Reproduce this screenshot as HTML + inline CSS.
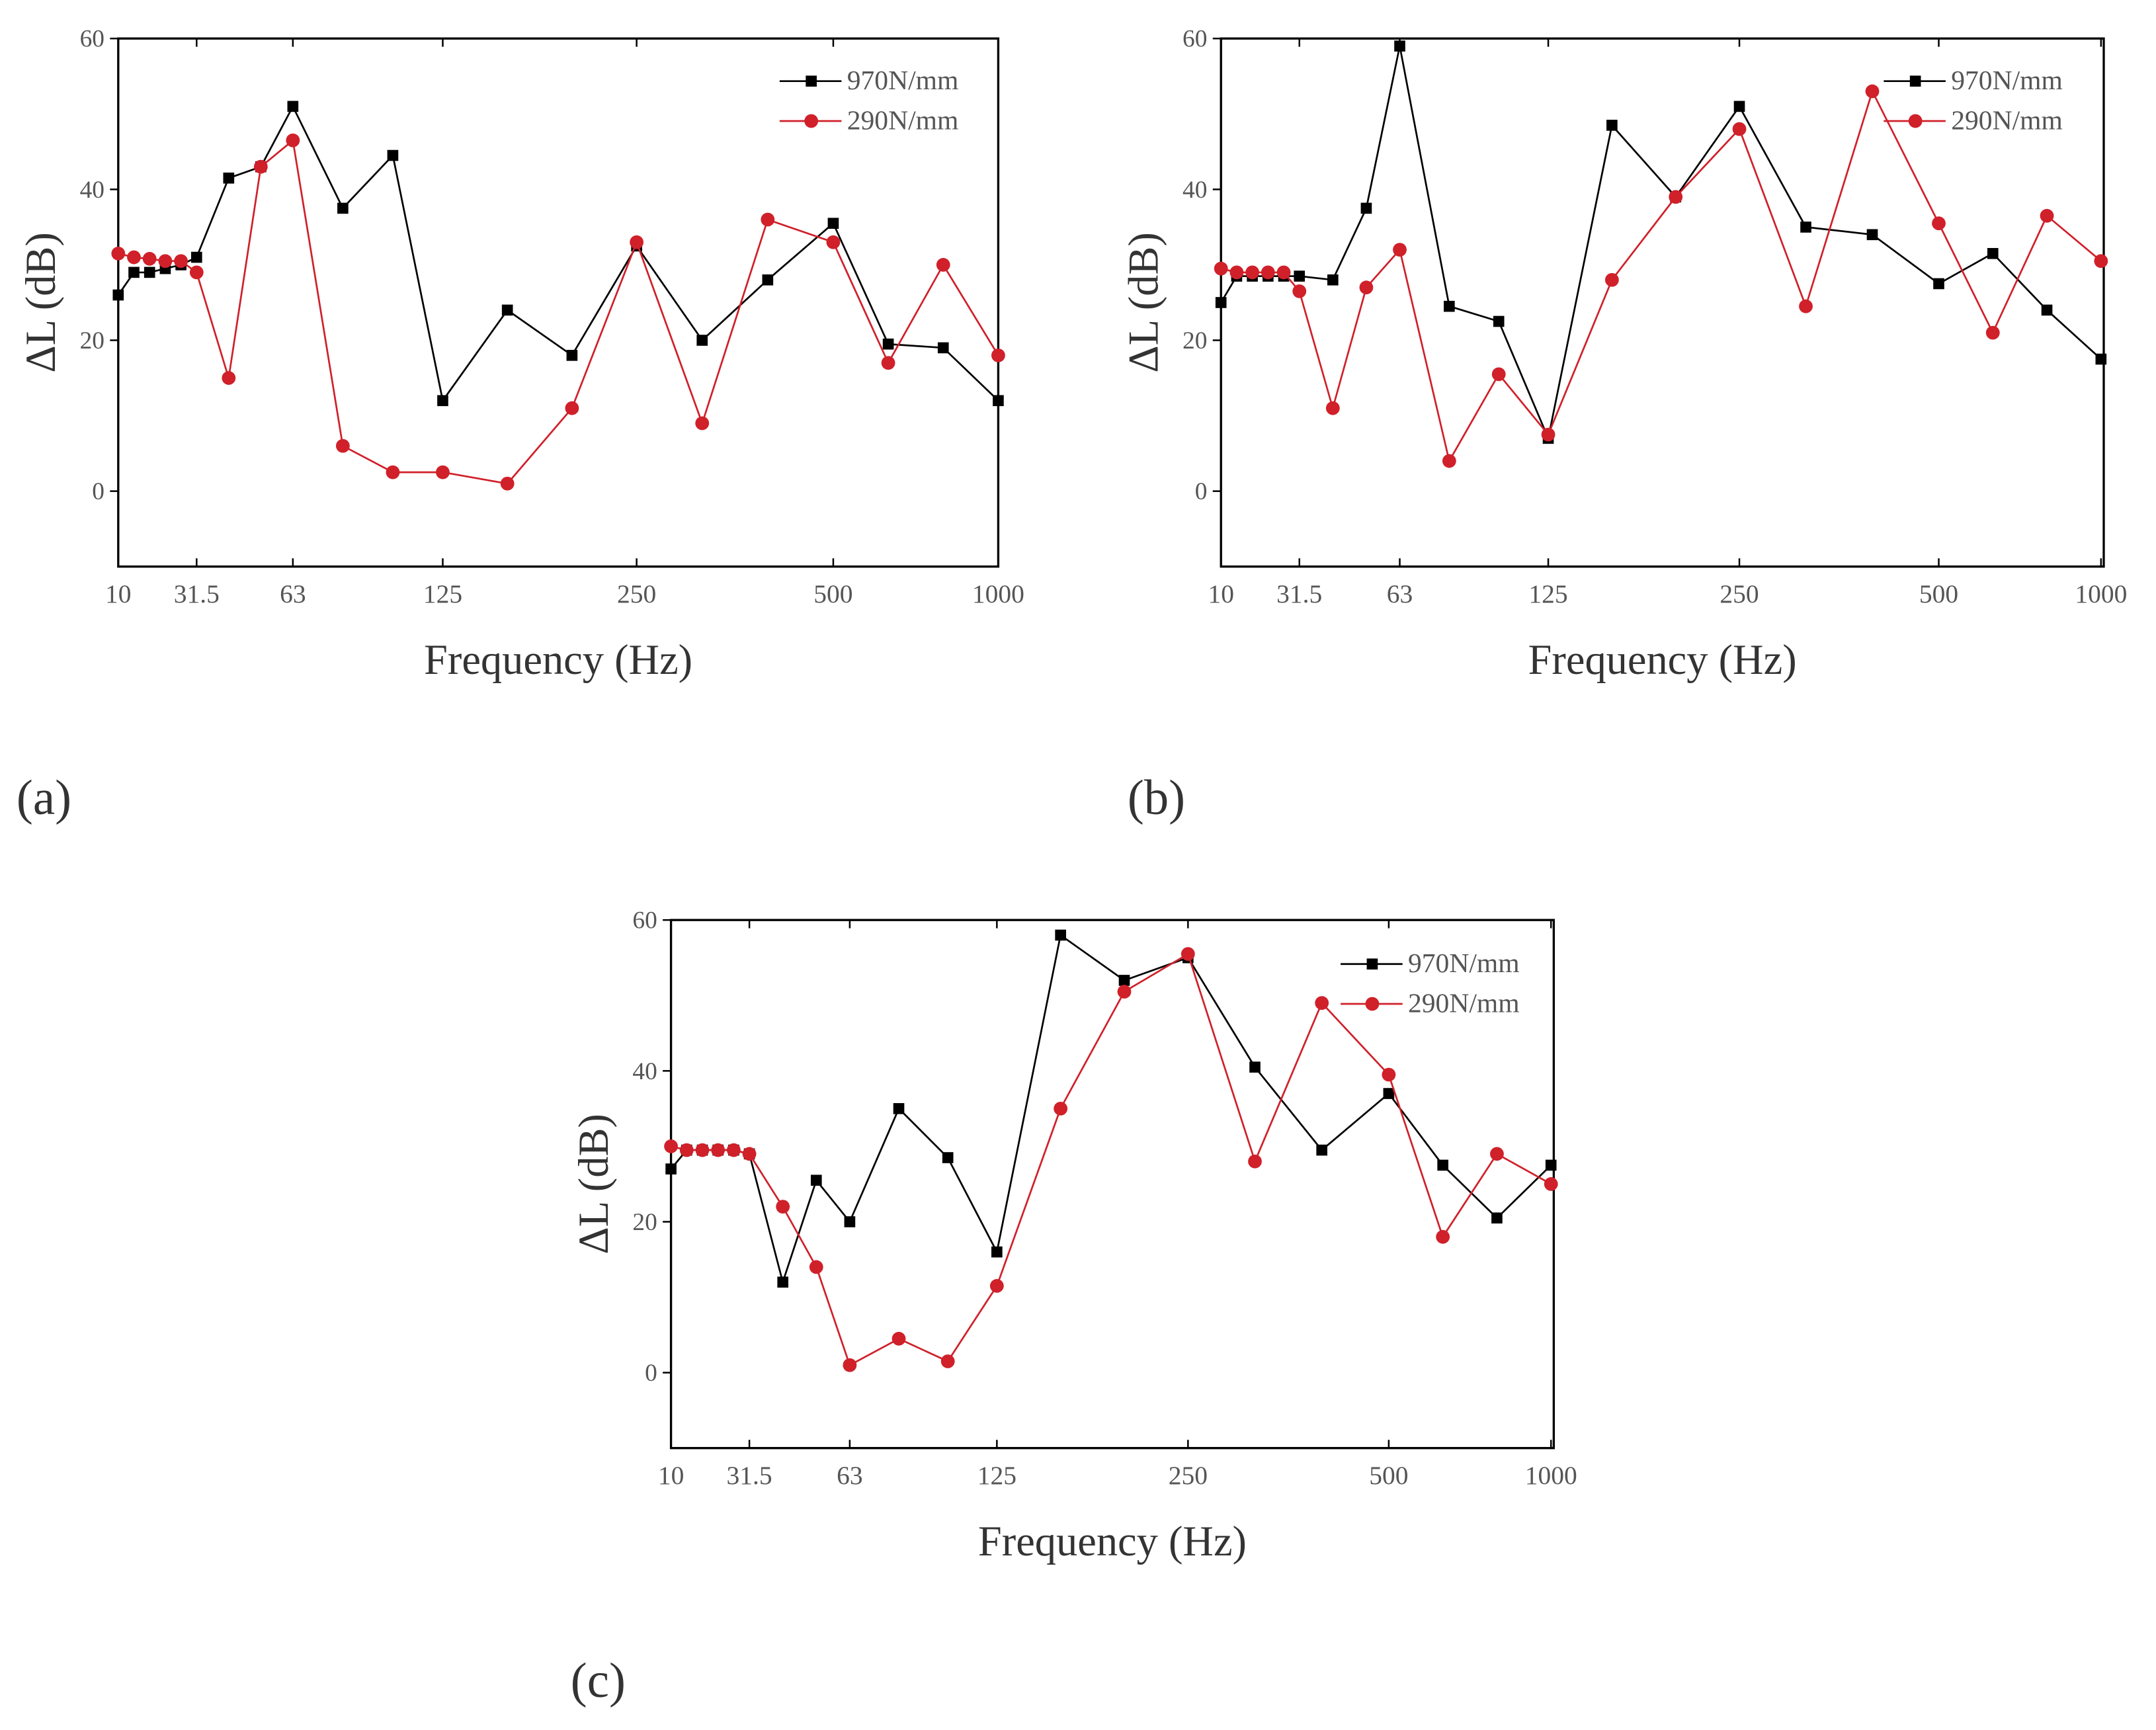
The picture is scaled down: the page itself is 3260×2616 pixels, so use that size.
<!DOCTYPE html>
<html><head><meta charset="utf-8"><style>
html,body{margin:0;padding:0;background:#fff;}
svg{display:block;}
text{font-family:"Liberation Serif",serif;}
</style></head><body>
<svg id="fig" width="3260" height="2616" viewBox="0 0 1568 1258" preserveAspectRatio="none" xmlns="http://www.w3.org/2000/svg"></svg>
<script>
const bands = [10,12.5,16,20,25,31.5,40,50,63,80,100,125,160,200,250,315,400,500,630,800,1000];
const tickLabels = ["10","31.5","63","125","250","500","1000"];
const tickIdx = [0,5,8,11,14,17,20];
const yTicks = [0,20,40,60];
const seriesNames = ["970N/mm","290N/mm"];
const aBlack = [26,29,29,29.5,30,31,41.5,43,51,37.5,44.5,12,24,18,32.5,20,28,35.5,19.5,19,12];
const aRed = [31.5,31,30.8,30.5,30.5,29,15,43,46.5,6,2.5,2.5,1,11,33,9,36,33,17,30,18];
const bBlack = [25,28.5,28.5,28.5,28.5,28.5,28,37.5,59,24.5,22.5,7,48.5,39,51,35,34,27.5,31.5,24,17.5];
const bRed = [29.5,29,29,29,29,26.5,11,27,32,4,15.5,7.5,28,39,48,24.5,53,35.5,21,36.5,30.5];
const cBlack = [27,29.5,29.5,29.5,29.5,29,12,25.5,20,35,28.5,16,58,52,55,40.5,29.5,37,27.5,20.5,27.5];
const cRed = [30,29.5,29.5,29.5,29.5,29,22,14,1,4.5,1.5,11.5,35,50.5,55.5,28,49,39.5,18,29,25];

const NS="http://www.w3.org/2000/svg";
const svg=document.getElementById('fig');
function el(tag,attrs,parent){const e=document.createElementNS(NS,tag);for(const k in attrs)e.setAttribute(k,attrs[k]);(parent||svg).appendChild(e);return e;}

function drawPanel(id,L,T,R,B,tickPx,blk,red,label,labelX,labelY,legX,legY){
  const g=el('g',{});
  
  
  const yScale=v=>B-(v+10)/70*(B-T);
  const xScale=i=>{for(let k=0;k<tickIdx.length-1;k++){const a=tickIdx[k],b=tickIdx[k+1];if(i<=b){return tickPx[k]+(i-a)/(b-a)*(tickPx[k+1]-tickPx[k]);}}return tickPx[tickPx.length-1];};
  const frame=el('rect',{x:L,y:T,width:R-L,height:B-T,fill:'none',stroke:'#000','stroke-width':1.6},g);
  
  
  yTicks.forEach(v=>{const y=yScale(v);
    el('line',{x1:L-6,y1:y,x2:L,y2:y,stroke:'#000','stroke-width':1.2},g);
    const t=el('text',{x:L-10,y:y+6,'text-anchor':'end','font-size':18,fill:'#555'},g);t.textContent=v;
    
    });
  tickIdx.forEach((ix,k)=>{const x=xScale(ix);
    el('line',{x1:x,y1:B,x2:x,y2:B-6,stroke:'#000','stroke-width':1.2},g);
    el('line',{x1:x,y1:T,x2:x,y2:T+6,stroke:'#000','stroke-width':1.2},g);
    const t=el('text',{x:x,y:B+26,'text-anchor':'middle','font-size':19,fill:'#555'},g);t.textContent=tickLabels[k];
    
    });
  const xt=el('text',{x:(L+R)/2,y:B+78,'text-anchor':'middle','font-size':31,fill:'#333'},g);xt.textContent='Frequency (Hz)';
  
  
  const yt=el('text',{x:0,y:0,'text-anchor':'middle','font-size':31,fill:'#333',transform:`translate(${L-46},${(T+B)/2}) rotate(-90)`},g);yt.textContent='ΔL (dB)';
  
  
  const draw=(vals,color,square,name)=>{
    const pts=vals.map((v,i)=>xScale(i).toFixed(1)+','+yScale(v).toFixed(1)).join(' ');
    const pl=el('polyline',{points:pts,fill:'none',stroke:color,'stroke-width':1.3},g);
    
    
    vals.forEach((v,i)=>{const x=xScale(i),y=yScale(v);let m;
      if(square)m=el('rect',{x:x-4,y:y-4,width:8,height:8,fill:color},g);
      else m=el('circle',{cx:x,cy:y,r:5,fill:color},g);
      
      });
  };
  draw(blk,'#000',true,'970');
  draw(red,'#d0202a',false,'290');
  [[seriesNames[0],'#000',true],[seriesNames[1],'#d0202a',false]].forEach((s,k)=>{
    const y=legY+k*29;
    const lg=el('g',{},g);
    
    
    el('line',{x1:legX,y1:y,x2:legX+45,y2:y,stroke:s[1],'stroke-width':1.3},lg);
    if(s[2])el('rect',{x:legX+19,y:y-4,width:8,height:8,fill:s[1]},lg);else el('circle',{cx:legX+23,cy:y,r:5,fill:s[1]},lg);
    const t=el('text',{x:legX+49,y:y+6,'font-size':20,fill:'#555'},lg);t.textContent=s[0];
  });
  const lab=el('text',{x:labelX,y:labelY,'font-size':36,fill:'#333'},g);lab.textContent=label;
  
  
}
drawPanel('a',86,28,726,412,[86,143,213,322,463,606,726],aBlack,aRed,'(a)',12,592,567,59);
drawPanel('b',888,28,1530,412,[888,945,1018,1126,1265,1410,1528],bBlack,bRed,'(b)',820,592,1370,59);
drawPanel('c',488,669,1130,1053,[488,545,618,725,864,1010,1128],cBlack,cRed,'(c)',415,1234,975,701);
</script>
</body></html>
